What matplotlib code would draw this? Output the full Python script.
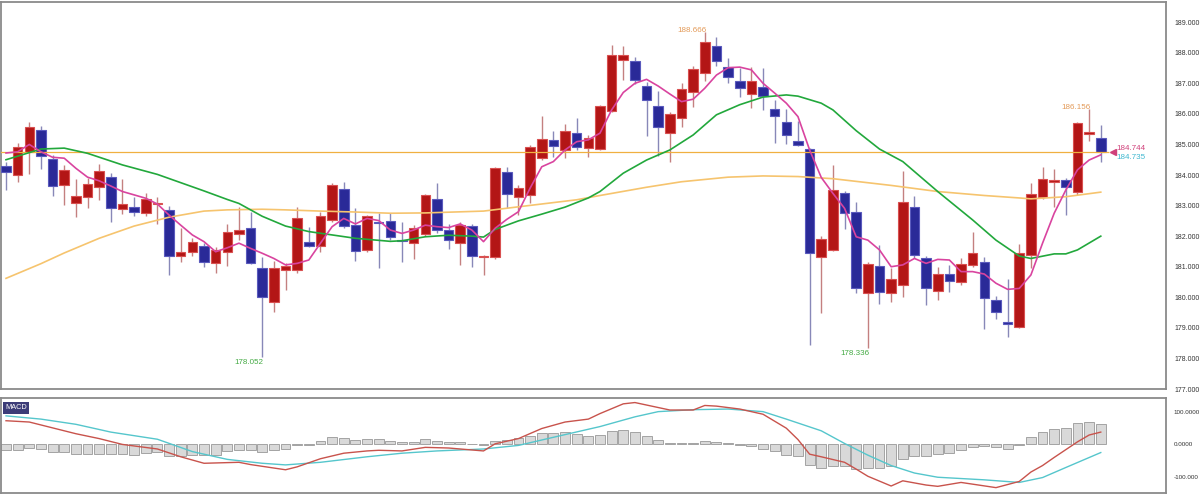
import matplotlib
matplotlib.use("Agg")
import matplotlib.pyplot as plt
from matplotlib import font_manager as fm
import numpy as np

# ---------------- data ----------------
opens = [184.30, 184.00, 184.76, 185.47, 184.52, 183.66, 183.07, 183.29, 183.62, 183.95,
         182.89, 182.94, 182.75, 183.06, 182.86, 181.36, 181.47, 181.69, 181.11, 181.49,
         182.06, 182.28, 180.95, 179.85, 180.89, 180.89, 181.82, 181.69, 182.53, 183.53,
         182.36, 181.55, 182.47, 182.49, 181.86, 181.77, 182.07, 183.21, 182.20, 181.77,
         182.33, 181.31, 181.31, 184.11, 183.27, 183.35, 184.55, 185.15, 184.82, 185.37,
         184.88, 184.85, 186.10, 187.77, 187.73, 186.91, 186.26, 185.39, 185.88, 186.73,
         187.35, 188.23, 187.53, 187.09, 186.65, 186.89, 186.15, 185.75, 185.12, 184.84,
         181.31, 181.55, 183.42, 182.80, 180.15, 181.03, 180.15, 180.40, 182.94, 181.27,
         180.21, 180.75, 180.51, 181.06, 181.16, 179.91, 179.20, 179.02, 181.38, 183.27,
         183.78, 183.84, 183.46, 185.35, 185.20]
highs = [184.44, 185.06, 185.75, 185.61, 184.66, 184.33, 183.87, 183.89, 184.35, 184.08,
         183.87, 183.29, 183.42, 183.29, 182.99, 182.26, 181.93, 181.78, 181.65, 182.39,
         182.96, 182.79, 181.33, 181.20, 181.11, 182.94, 182.29, 182.80, 183.73, 183.78,
         182.91, 182.70, 182.75, 182.75, 182.47, 182.37, 183.38, 183.73, 182.40, 182.47,
         182.40, 181.37, 184.25, 184.27, 183.66, 184.98, 185.93, 185.44, 185.66, 185.86,
         185.31, 186.30, 188.26, 188.22, 187.87, 187.05, 186.76, 186.07, 187.00, 187.57,
         188.666, 188.51, 187.84, 187.49, 187.53, 187.49, 186.46, 186.15, 185.78, 184.90,
         182.00, 184.33, 183.49, 183.13, 181.16, 181.71, 180.95, 184.14, 183.31, 181.35,
         181.00, 181.06, 181.27, 182.15, 181.33, 180.05, 180.59, 181.74, 183.75, 184.25,
         184.19, 183.89, 185.72, 186.156, 185.64]
lows = [183.51, 183.78, 184.03, 184.20, 183.32, 183.01, 182.64, 182.91, 183.18, 182.47,
        182.73, 182.66, 182.67, 182.40, 180.73, 181.14, 181.35, 181.00, 180.80, 181.02,
        181.87, 181.08, 178.052, 179.53, 180.24, 180.80, 181.65, 181.49, 182.47, 182.26,
        181.20, 181.49, 180.95, 181.87, 181.15, 181.24, 182.00, 182.09, 181.57, 181.06,
        181.00, 180.73, 181.24, 182.91, 182.69, 183.10, 184.49, 184.60, 184.55, 184.82,
        184.58, 184.82, 186.05, 187.11, 186.98, 185.28, 184.62, 184.44, 185.58, 186.24,
        187.06, 187.57, 187.00, 186.56, 186.20, 186.13, 185.04, 185.02, 184.95, 178.44,
        179.49, 181.50, 182.22, 180.15, 178.336, 179.78, 179.85, 180.00, 181.27, 179.75,
        179.91, 180.18, 180.40, 181.00, 178.97, 179.28, 178.69, 179.00, 180.95, 183.20,
        182.96, 182.69, 183.35, 185.12, 184.44]
closes = [184.10, 184.93, 185.58, 184.63, 183.64, 184.17, 183.31, 183.71, 184.14, 182.93,
          183.05, 182.80, 183.21, 183.08, 181.36, 181.49, 181.80, 181.16, 181.55, 182.15,
          182.20, 181.11, 180.00, 180.95, 181.02, 182.58, 181.69, 182.67, 183.67, 182.33,
          181.51, 182.66, 182.42, 181.98, 181.84, 182.26, 183.33, 182.20, 181.87, 182.36,
          181.35, 181.35, 184.22, 183.38, 183.57, 184.91, 185.17, 184.96, 185.45, 184.93,
          185.20, 186.26, 187.93, 187.91, 187.11, 186.46, 185.56, 186.00, 186.82, 187.46,
          188.35, 187.73, 187.20, 186.84, 187.08, 186.59, 185.93, 185.31, 184.98, 181.44,
          181.90, 183.51, 182.75, 180.29, 181.09, 180.18, 180.59, 183.11, 181.38, 180.29,
          180.76, 180.54, 181.09, 181.46, 179.97, 179.53, 179.14, 181.44, 183.38, 183.88,
          183.84, 183.62, 185.69, 185.40, 184.74]

ma_short = [184.72, 184.76, 185.00, 184.76, 184.58, 184.55, 184.22, 183.93, 183.81, 183.64,
            183.46, 183.35, 183.24, 183.05, 182.69, 182.36, 182.04, 181.82, 181.49, 181.62,
            181.77, 181.60, 181.44, 181.27, 181.06, 181.11, 181.22, 181.77, 182.31, 182.58,
            182.40, 182.58, 182.51, 182.20, 182.09, 182.20, 182.36, 182.31, 182.28, 182.40,
            182.20, 181.82, 182.26, 182.55, 182.80, 183.57, 184.27, 184.44, 184.82, 185.09,
            185.15, 185.37, 186.13, 186.70, 187.00, 187.13, 186.91, 186.65, 186.40, 186.48,
            186.84, 187.27, 187.51, 187.53, 187.44, 187.00, 186.68, 186.35, 185.91, 184.82,
            183.92, 183.40, 182.91, 181.98, 181.87, 181.55, 181.00, 181.06, 181.27, 181.11,
            181.24, 181.22, 180.84, 180.84, 180.76, 180.46, 180.26, 180.29, 180.73, 181.77,
            182.75, 183.51, 184.17, 184.49, 184.66]

ma_mid_idx = [0, 3, 5, 7, 10, 13, 15, 17, 19, 20, 22, 24, 26, 28, 30, 33, 34, 36, 38, 40,
              41, 42, 44, 46, 48, 50, 51, 53, 55, 57, 59, 61, 63, 65, 67, 68, 70, 71, 73,
              75, 77, 80, 83, 85, 87, 88, 90, 91, 92, 94]
ma_mid_val = [184.50, 184.85, 184.88, 184.71, 184.33, 184.02, 183.75, 183.48, 183.20, 183.07,
              182.65, 182.33, 182.15, 182.04, 181.93, 181.83, 181.85, 181.98, 182.03, 182.00,
              181.97, 182.22, 182.50, 182.72, 182.95, 183.25, 183.46, 184.06, 184.49, 184.82,
              185.31, 185.97, 186.30, 186.55, 186.62, 186.58, 186.35, 186.13, 185.45, 184.85,
              184.44, 183.46, 182.53, 181.87, 181.35, 181.27, 181.42, 181.42, 181.55, 182.00]

ma_long_idx = [0, 3, 5, 8, 11, 14, 17, 19, 22, 24, 27, 30, 33, 36, 41, 44, 49, 51, 55, 58,
               62, 65, 68, 71, 76, 80, 84, 87, 88, 91, 94]
ma_long_val = [180.62, 181.10, 181.45, 181.93, 182.33, 182.62, 182.82, 182.86, 182.88, 182.86,
               182.82, 182.79, 182.75, 182.76, 182.82, 182.96, 183.19, 183.33, 183.60, 183.78,
               183.93, 183.97, 183.95, 183.88, 183.66, 183.46, 183.33, 183.25, 183.22, 183.29,
               183.44]

last_ask = 184.744
last_bid = 184.735
price_ticks = [177, 178, 179, 180, 181, 182, 183, 184, 185, 186, 187, 188, 189]

macd_hist = [-18.5, -18.5, -11, -14, -22, -24, -29, -29, -29, -29,
             -29, -33, -27, -24, -35, -36, -33, -33, -31, -20,
             -16, -16, -24, -18.5, -14, -3, -2, 11, 22, 18.5,
             13, 16, 16, 11, 8, 8, 16, 11, 8, 8,
             2, -2, 11, 14, 18.5, 27, 35, 35, 38, 33,
             27, 30, 41, 46, 38, 27, 13, 5, 3, 5,
             11, 9, 3, -1, -5, -13, -20, -31, -36, -62,
             -73, -65, -65, -76, -73, -73, -65, -44, -36, -36,
             -29, -25, -18.5, -9, -5, -9, -13, -2, 22, 38,
             47, 51, 65, 69, 62]
macd_idx = [0, 2, 4, 6, 8, 10, 13, 15, 17, 20, 21, 24, 25, 27, 29, 31, 32, 34, 36, 38,
            41, 42, 44, 46, 48, 50, 51, 53, 54, 57, 59, 60, 61, 63, 65, 67, 68, 69, 70, 72,
            73, 74, 76, 77, 79, 80, 82, 85, 87, 88, 89, 90, 92, 93, 94]
macd_val = [73, 69, 51, 33, 18, 0, -14, -38, -58, -55, -62, -78, -69, -44, -27, -20, -18, -20,
            -9, -11, -20, 2, 18, 49, 69, 78, 95, 125, 129, 106, 106, 120, 118, 109, 93, 50,
            15, -30, -38, -55, -76, -98, -128, -112, -125, -129, -117, -133, -114, -85, -65,
            -40, 8, 29, 38]
signal_idx = [0, 3, 6, 9, 13, 16, 19, 22, 24, 27, 31, 34, 37, 41, 44, 47, 51, 54, 56, 59,
              62, 65, 67, 70, 72, 74, 76, 78, 80, 84, 87, 89, 91, 94]
signal_val = [88, 78, 62, 38, 16, -22, -46, -58, -63, -55, -38, -27, -20, -14, -3, 22, 55,
              85, 101, 107, 109, 101, 78, 42, 3, -33, -65, -88, -101, -109, -117, -102, -71,
              -25]
macd_ticks = [100, 0, -100]
macd_tick_labels = ["100.0000", "0.0000", "-100.000"]

# ---------------- fonts ----------------
narrow_files = [f for f in fm.fontManager.ttflist
                if 'narrow' in f.fname.lower() and 'liberation' in f.fname.lower()]
if narrow_files:
    axis_font = fm.FontProperties(fname=[f.fname for f in narrow_files
                                         if 'bold' not in f.fname.lower()
                                         and 'italic' not in f.fname.lower()][0])
    price_size, macd_size = 6.0, 5.8
else:
    axis_font = fm.FontProperties(family='Liberation Sans')
    price_size, macd_size = 5.0, 4.5
plain = 'Liberation Sans'

# ---------------- figure ----------------
W, H = 1200, 494
fig = plt.figure(figsize=(W / 100, H / 100), dpi=100)
fig.patch.set_facecolor('white')


def rect(l, t, r, b):
    return [l / W, 1 - b / H, (r - l) / W, (b - t) / H]


ax = fig.add_axes(rect(1, 2, 1166, 389))
axm = fig.add_axes(rect(1, 398, 1166, 492.5))

n = len(closes)
x = np.arange(n)
o = np.array(opens)
c = np.array(closes)
up = c >= o

RED, RED_E, RED_W = '#b31616', '#d95050', '#c48080'
BLU, BLU_E, BLU_W = '#2a2a98', '#5a5abd', '#8888b8'

ax.vlines(x, lows, highs, colors=[RED_W if u else BLU_W for u in up], lw=1.0, zorder=2)
body_bottom = np.minimum(o, c)
body_h = np.maximum(np.abs(c - o), 0.035)
ax.bar(x, body_h, bottom=body_bottom, width=0.82,
       color=[RED if u else BLU for u in up],
       edgecolor=[RED_E if u else BLU_E for u in up], linewidth=0.8, zorder=3)

ax.plot(ma_long_idx, ma_long_val, color='#f6c46e', lw=1.2, zorder=4)
ax.plot(ma_mid_idx, ma_mid_val, color='#22a83c', lw=1.2, zorder=5)
ax.plot(x, ma_short, color='#d9449f', lw=1.2, zorder=6)
ax.hlines(last_ask, -0.5, n - 0.3, color='#f0b040', lw=0.9, zorder=4)

# high / low annotations
for i, kind, col in [(60, 'high', '#e39a58'), (93, 'high', '#e39a58'),
                     (22, 'low', '#44aa44'), (74, 'low', '#44aa44')]:
    if kind == 'high':
        ax.annotate(f"{highs[i]:.3f}", xy=(i, highs[i]), xytext=(1, -1.5),
                    textcoords='offset points', ha='right', va='bottom',
                    fontsize=5.8, color=col, family=plain, zorder=7)
    else:
        ax.annotate(f"{lows[i]:.3f}", xy=(i, lows[i]), xytext=(1, -1.5),
                    textcoords='offset points', ha='right', va='top',
                    fontsize=5.8, color=col, family=plain, zorder=7)

# last price marker and labels
ax.plot([n + 0.05], [last_ask], marker='<', ms=4.5, color='#d0407a', clip_on=False, zorder=8)
ax.annotate(f"{last_ask:.3f}", xy=(n + 0.35, last_ask), xytext=(0, 2.5),
            textcoords='offset points', ha='left', va='center', fontsize=5.8,
            color='#d0407a', family=plain, annotation_clip=False)
ax.annotate(f"{last_bid:.3f}", xy=(n + 0.35, last_ask), xytext=(0, -3.5),
            textcoords='offset points', ha='left', va='center', fontsize=5.8,
            color='#3fb8d0', family=plain, annotation_clip=False)

ax.set_xlim(-0.43, 99.6)
ax.set_ylim(177.02, 189.66)
ax.set_xticks([])
ax.yaxis.tick_right()
ax.set_yticks(price_ticks)
ax.set_yticklabels([f"{p:.3f}" for p in price_ticks])
ax.tick_params(axis='y', length=0, pad=6, labelcolor='#333333')
for lab in ax.get_yticklabels():
    lab.set_fontproperties(axis_font)
    lab.set_fontsize(price_size)

# ---------------- MACD panel ----------------
axm.bar(x, macd_hist, width=0.85, color='#d9d9d9', edgecolor='#a3a3a3', linewidth=0.7, zorder=2)
axm.plot(signal_idx, signal_val, color='#55c6cc', lw=1.0, zorder=3)
axm.plot(macd_idx, macd_val, color='#c8534c', lw=1.0, zorder=4)
axm.set_xlim(-0.43, 99.6)
axm.set_ylim(-148, 143)
axm.set_xticks([])
axm.yaxis.tick_right()
axm.set_yticks(macd_ticks)
axm.set_yticklabels(macd_tick_labels)
axm.tick_params(axis='y', length=0, pad=5.5, labelcolor='#333333')
for lab in axm.get_yticklabels():
    lab.set_fontproperties(axis_font)
    lab.set_fontsize(macd_size)
axm.text(0.0035, 0.935, 'MACD', transform=axm.transAxes, ha='left', va='top',
         fontsize=5.3, color='white', fontproperties=axis_font,
         bbox=dict(boxstyle='square,pad=0.35', fc='#3c3c78', ec='none'))

for a in (ax, axm):
    for s in a.spines.values():
        s.set_color('#8a8a8a')
        s.set_linewidth(1.3)

fig.savefig('out.png', dpi=100, facecolor='white')
